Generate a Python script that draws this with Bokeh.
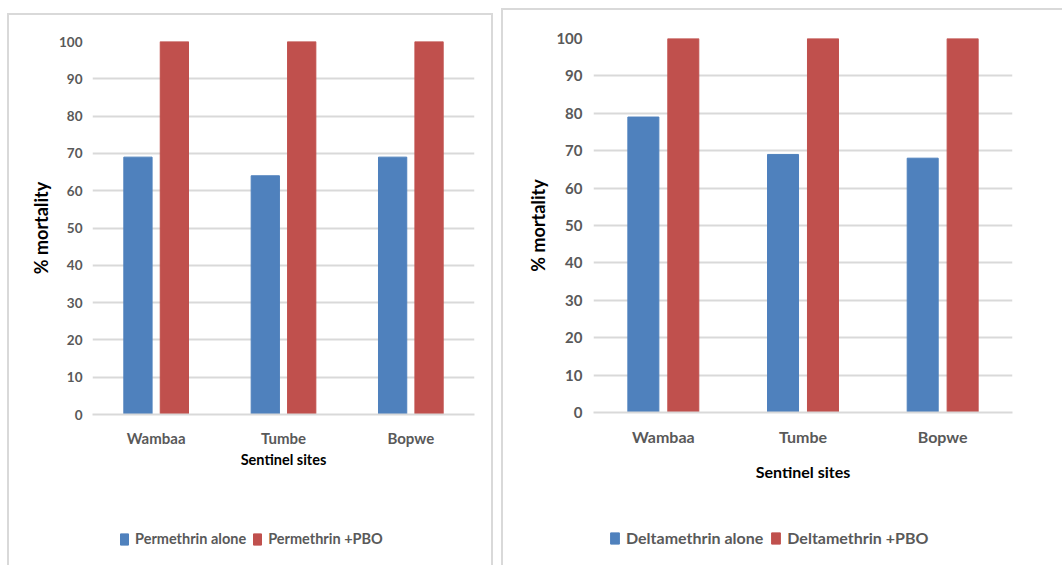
from bokeh.plotting import figure
from bokeh.models import (ColumnDataSource, FactorRange, FixedTicker, Legend, LegendItem,
                          Range1d)
from bokeh.transform import dodge
from bokeh.layouts import row, column
from bokeh.embed import file_html
from bokeh.resources import INLINE

# Bioassay mortality by sentinel site
sites = ["Wambaa", "Tumbe", "Bopwe"]
permethrin_alone = [69, 64, 69]
permethrin_pbo = [100, 100, 100]
deltamethrin_alone = [79, 69, 68]
deltamethrin_pbo = [100, 100, 100]
y_ticks = [0, 10, 20, 30, 40, 50, 60, 70, 80, 90, 100]

BLUE = "#4f81bd"
RED = "#c0504d"
GRID = "#d9d9d9"
TEXT = "#595959"
FONT = "Lato"
LEGEND_H = 45
OFFSET = 0.143
BAR_W = 0.222


def chart(src, width, height, borders, sizes, standoffs, style):
    left, right, top, bottom = borders
    tick_size, cat_size, title_size, ylab_size = sizes
    tick_standoff, ylab_standoff, cat_standoff, title_standoff = standoffs
    p = figure(x_range=FactorRange(*sites, range_padding=0), y_range=Range1d(0, 100),
               width=width, height=height, output_backend="svg", toolbar_location=None,
               min_border_left=left, min_border_right=right, min_border_top=top,
               min_border_bottom=bottom, margin=0, styles=style)
    p.outline_line_color = None
    p.background_fill_color = "white"
    p.border_fill_color = "white"

    p.vbar(x=dodge("site", -OFFSET, range=p.x_range), top="alone", width=BAR_W,
           source=src, fill_color=BLUE, line_color=BLUE)
    p.vbar(x=dodge("site", OFFSET, range=p.x_range), top="pbo", width=BAR_W,
           source=src, fill_color=RED, line_color=RED)

    p.xgrid.grid_line_color = None
    p.ygrid.grid_line_color = GRID
    p.ygrid.grid_line_width = 2
    p.ygrid.level = "underlay"

    p.yaxis.ticker = FixedTicker(ticks=y_ticks)
    p.yaxis.axis_line_color = None
    p.yaxis.major_tick_line_color = None
    p.yaxis.minor_tick_line_color = None
    p.yaxis.major_tick_out = 0
    p.yaxis.major_tick_in = 0
    p.yaxis.minor_tick_out = 0
    p.yaxis.major_label_text_font = FONT
    p.yaxis.major_label_text_font_style = "bold"
    p.yaxis.major_label_text_font_size = f"{tick_size}px"
    p.yaxis.major_label_text_color = TEXT
    p.yaxis.major_label_standoff = tick_standoff
    p.yaxis.axis_label = "% mortality"
    p.yaxis.axis_label_text_font = FONT
    p.yaxis.axis_label_text_font_style = "bold"
    p.yaxis.axis_label_text_font_size = f"{ylab_size}px"
    p.yaxis.axis_label_text_color = "black"
    p.yaxis.axis_label_standoff = ylab_standoff

    p.xaxis.axis_line_color = GRID
    p.xaxis.axis_line_width = 2
    p.xaxis.major_tick_line_color = None
    p.xaxis.minor_tick_line_color = None
    p.xaxis.major_tick_out = 0
    p.xaxis.major_tick_in = 0
    p.xaxis.minor_tick_out = 0
    p.xaxis.major_label_text_font = FONT
    p.xaxis.major_label_text_font_style = "bold"
    p.xaxis.major_label_text_font_size = f"{cat_size}px"
    p.xaxis.major_label_text_color = TEXT
    p.xaxis.major_label_standoff = cat_standoff
    p.xaxis.axis_label = "Sentinel sites"
    p.xaxis.axis_label_text_font = FONT
    p.xaxis.axis_label_text_font_style = "bold"
    p.xaxis.axis_label_text_font_size = f"{title_size}px"
    p.xaxis.axis_label_text_color = "black"
    p.xaxis.axis_label_standoff = title_standoff
    return p


def legend_strip(src, x_range, names, width, pos, glyph_w, spacing, font_size, style):
    # key strip under a chart; its series renderers stay hidden, only the key shows
    p = figure(width=width, height=LEGEND_H, x_range=x_range, y_range=Range1d(0, 100),
               output_backend="svg", toolbar_location=None, x_axis_location=None,
               y_axis_location=None, min_border=0, margin=0, styles=style)
    p.outline_line_color = None
    p.grid.visible = False
    p.background_fill_color = "white"
    p.border_fill_color = "white"
    r1 = p.vbar(x=dodge("site", -OFFSET, range=x_range), top="alone", width=BAR_W,
                source=src, fill_color=BLUE, line_color=BLUE, visible=False)
    r2 = p.vbar(x=dodge("site", OFFSET, range=x_range), top="pbo", width=BAR_W,
                source=src, fill_color=RED, line_color=RED, visible=False)
    legend = Legend(items=[LegendItem(label=names[0], renderers=[r1]),
                           LegendItem(label=names[1], renderers=[r2])],
                    orientation="horizontal", location=pos,
                    glyph_width=glyph_w, glyph_height=14, label_height=14,
                    label_standoff=6, spacing=spacing, padding=0, margin=0,
                    border_line_color=None, background_fill_alpha=0,
                    inactive_fill_alpha=0,
                    label_text_font=FONT, label_text_font_style="bold",
                    label_text_font_size=f"{font_size}px",
                    label_text_color=TEXT)
    p.add_layout(legend)
    return p


def panel(alone, pbo, names, width, height, borders, sizes, standoffs, legend_pos,
          glyph_w, spacing, legend_size, chart_style, strip_style, margin):
    src = ColumnDataSource(dict(site=sites, alone=alone, pbo=pbo))
    p = chart(src, width, height, borders, sizes, standoffs, chart_style)
    key = legend_strip(src, p.x_range, names, width, legend_pos, glyph_w, spacing,
                       legend_size, strip_style)
    return column(p, key, spacing=0, margin=margin)


b = f"2px solid {GRID}"
left_panel = panel(permethrin_alone, permethrin_pbo,
                   ["Permethrin alone", "Permethrin +PBO"],
                   width=486, height=507, borders=(83, 21, 26, 108),
                   sizes=(13.5, 15, 14.5, 18), standoffs=(10, 4, 14, 1),
                   legend_pos=(27, 18), glyph_w=10, spacing=6, legend_size=14.5,
                   chart_style={"border-top": b, "border-left": b, "border-right": b},
                   strip_style={"border-left": b, "border-right": b},
                   margin=(13, 0, 0, 7))

right_panel = panel(deltamethrin_alone, deltamethrin_pbo,
                    ["Deltamethrin alone", "Deltamethrin +PBO"],
                    width=561, height=512, borders=(90, 52, 28, 110),
                    sizes=(15, 16, 16, 18), standoffs=(11, 4, 14, 13),
                    legend_pos=(16, 18), glyph_w=11, spacing=7, legend_size=16,
                    chart_style={"border-top": b, "border-left": b},
                    strip_style={"border-left": b},
                    margin=(8, 0, 0, 8))

layout = row(left_panel, right_panel, spacing=0)

open("out.html", "w").write(file_html(layout, INLINE))
